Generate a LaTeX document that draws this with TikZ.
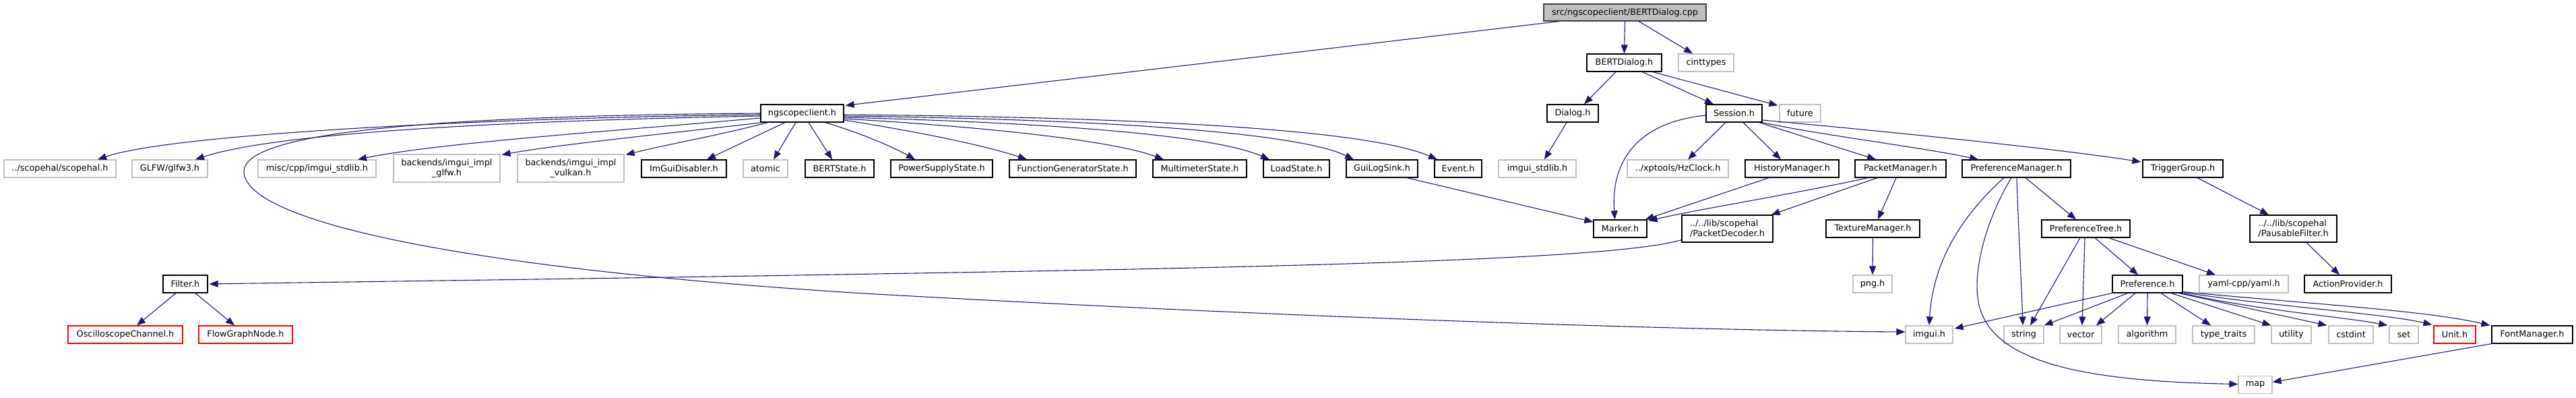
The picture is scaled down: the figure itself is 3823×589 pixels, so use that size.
\documentclass[tikz,border=0pt]{standalone}
\usepackage{fontspec}
\setmainfont{DejaVu Sans}
\usetikzlibrary{arrows.meta}
\definecolor{edgec}{HTML}{191970}
\definecolor{greyb}{HTML}{BFBFBF}
\tikzset{
  nb/.style={draw=black, line width=1.2pt, fill=white, inner sep=0pt, text=black,
             font=\fontsize{12.8}{15}\selectfont, align=center, minimum height=26pt},
  ng/.style={nb, draw=greyb},
  nr/.style={nb, draw=red},
  nroot/.style={nb, draw=black!75, fill=greyb},
  e/.style={draw=edgec, line width=1.1pt, -{Triangle[length=13pt,width=10pt]}},
}
\begin{document}
\begin{tikzpicture}[x=1pt,y=-1pt]
\useasboundingbox (0,0) rectangle (3823,589);
% nodes
\node[nroot, minimum width=241pt, minimum height=25pt] (cpp) at (2411.5,18.5) {src/ngscopeclient/BERTDialog.cpp};
\node[nb, minimum width=111pt] (bdh) at (2410.5,93) {BERTDialog.h};
\node[ng, minimum width=82pt] (cint) at (2532,93) {cinttypes};
\node[nb, minimum width=123pt] (ngs) at (1190.5,168) {ngscopeclient.h};
\node[nb, minimum width=76pt] (dialog) at (2334,168) {Dialog.h};
\node[nb, minimum width=83pt] (session) at (2573.5,168) {Session.h};
\node[ng, minimum width=61pt] (future) at (2671.5,168) {future};
% row 250
\node[ng, minimum width=166pt] (scopehal) at (89,250) {../scopehal/scopehal.h};
\node[ng, minimum width=112pt] (glfw) at (252,250) {GLFW/glfw3.h};
\node[ng, minimum width=175pt] (mimstd) at (470.5,250) {misc/cpp/imgui\_stdlib.h};
\node[ng, minimum width=158pt, minimum height=41pt] (gimpl) at (663,249.5) {backends/imgui\_impl\\\_glfw.h};
\node[ng, minimum width=158pt, minimum height=41pt] (vimpl) at (847,249.5) {backends/imgui\_impl\\\_vulkan.h};
\node[nb, minimum width=126pt] (imdis) at (1015,250) {ImGuiDisabler.h};
\node[ng, minimum width=66pt] (atomic) at (1136,250) {atomic};
\node[nb, minimum width=102pt] (bstate) at (1246,250) {BERTState.h};
\node[nb, minimum width=151pt] (psu) at (1397.5,250) {PowerSupplyState.h};
\node[nb, minimum width=188pt] (fgen) at (1592,250) {FunctionGeneratorState.h};
\node[nb, minimum width=139pt] (meter) at (1780.5,250) {MultimeterState.h};
\node[nb, minimum width=98pt] (load) at (1924,250) {LoadState.h};
\node[nb, minimum width=106pt] (guilog) at (2051,250) {GuiLogSink.h};
\node[nb, minimum width=70pt] (event) at (2164,250) {Event.h};
\node[ng, minimum width=115pt] (imstd) at (2281.5,250) {imgui\_stdlib.h};
\node[ng, minimum width=150pt] (hz) at (2490,250) {../xptools/HzClock.h};
\node[nb, minimum width=139pt] (history) at (2659.5,250) {HistoryManager.h};
\node[nb, minimum width=135pt] (packet) at (2820.5,250) {PacketManager.h};
\node[nb, minimum width=161pt] (prefmgr) at (2992.5,250) {PreferenceManager.h};
\node[nb, minimum width=119pt] (trigger) at (3239.5,250) {TriggerGroup.h};
% row 339
\node[nb, minimum width=79pt] (marker) at (2404.5,339) {Marker.h};
\node[nb, minimum width=135pt, minimum height=40pt, align=left] (pdec) at (2563.5,339) {../../lib/scopehal\\/PacketDecoder.h};
\node[nb, minimum width=139pt] (texmgr) at (2779.5,339) {TextureManager.h};
\node[nb, minimum width=131pt] (preftree) at (3095.5,339) {PreferenceTree.h};
\node[nb, minimum width=129pt, minimum height=40pt, align=left] (pausable) at (3403.5,339) {../../lib/scopehal\\/PausableFilter.h};
% row 421
\node[nb, minimum width=66pt] (filter) at (275,421) {Filter.h};
\node[ng, minimum width=58pt] (png) at (2779,421) {png.h};
\node[nb, minimum width=104pt] (pref) at (3187,421) {Preference.h};
\node[ng, minimum width=132pt] (yaml) at (3330,421) {yaml-cpp/yaml.h};
\node[nb, minimum width=129pt] (action) at (3484.5,421) {ActionProvider.h};
% row 496
\node[nr, minimum width=170pt] (osc) at (186,496) {OscilloscopeChannel.h};
\node[nr, minimum width=139pt] (flow) at (364.5,496) {FlowGraphNode.h};
\node[ng, minimum width=70pt] (imguih) at (2863,496) {imgui.h};
\node[ng, minimum width=59pt] (string) at (3003.5,496) {string};
\node[ng, minimum width=62pt] (vector) at (3088,496) {vector};
\node[ng, minimum width=85pt] (algo) at (3186.5,496) {algorithm};
\node[ng, minimum width=92pt] (ttraits) at (3300,496) {type\_traits};
\node[ng, minimum width=59pt] (utility) at (3400.5,496) {utility};
\node[ng, minimum width=66pt] (cstdint) at (3489,496) {cstdint};
\node[ng, minimum width=43pt] (set) at (3567.5,496) {set};
\node[nr, minimum width=62pt] (unit) at (3643,496) {Unit.h};
\node[nb, minimum width=120pt] (fontmgr) at (3758,496) {FontManager.h};
\node[ng, minimum width=50pt] (map) at (3347,570.5) {map};
% edges from cpp
\draw[e] ([shift={(-97,0)}]cpp.south) -- ([shift={(2,2)}]ngs.north east);
\draw[e] (cpp.south) -- (bdh.north);
\draw[e] ([shift={(20.5,0)}]cpp.south) -- ([shift={(-20,0)}]cint.north);
% BERTDialog.h
\draw[e] ([shift={(-12.5,0)}]bdh.south) -- ([shift={(17,0)}]dialog.north);
\draw[e] ([shift={(26.5,0)}]bdh.south) -- ([shift={(-30.5,0)}]session.north);
\draw[e] ([shift={(-14,0)}]bdh.south east) -- ([shift={(-2,2)}]future.north west);
\draw[e] ([shift={(-9,0)}]dialog.south) -- ([shift={(10.5,0)}]imstd.north);
% ngscopeclient.h
\draw[e] ([shift={(0,2)}]ngs.west) .. controls (700,175) and (250,200) .. ([shift={(56,0)}]scopehal.north);
\draw[e] ([shift={(0,4)}]ngs.west) .. controls (700,180) and (400,200) .. ([shift={(38,0)}]glfw.north);
\draw[e] ([shift={(0,7)}]ngs.west) .. controls (900,195) and (650,212) .. ([shift={(60.5,0)}]mimstd.north);
\draw[e] ([shift={(3,0)}]ngs.south west) .. controls (1000,197) and (830,214) .. ([shift={(2,1)}]gimpl.north east);
\draw[e] ([shift={(11,0)}]ngs.south west) .. controls (1070,200) and (990,214) .. ([shift={(2,1)}]vimpl.north east);
\draw[e] ([shift={(-25.5,0)}]ngs.south) -- ([shift={(34,0)}]imdis.north);
\draw[e] ([shift={(-9.5,0)}]ngs.south) -- ([shift={(12,0)}]atomic.north);
\draw[e] ([shift={(9.5,0)}]ngs.south) -- ([shift={(-11,0)}]bstate.north);
\draw[e] ([shift={(-28,0)}]ngs.south east) .. controls (1270,195) and (1320,215) .. ([shift={(-39.5,0)}]psu.north);
\draw[e] ([shift={(0,10)}]ngs.east) .. controls (1360,195) and (1460,215) .. ([shift={(-68,0)}]fgen.north);
\draw[e] ([shift={(0,8)}]ngs.east) .. controls (1460,188) and (1650,208) .. ([shift={(-53.5,0)}]meter.north);
\draw[e] ([shift={(0,6)}]ngs.east) .. controls (1560,182) and (1800,200) .. ([shift={(-40,0)}]load.north);
\draw[e] ([shift={(0,4)}]ngs.east) .. controls (1660,177) and (1930,198) .. ([shift={(-42,0)}]guilog.north);
\draw[e] ([shift={(0,2)}]ngs.east) .. controls (1750,174) and (2040,196) .. ([shift={(-31,0)}]event.north);
\draw[e] ([shift={(0,0)}]ngs.west) .. controls (600,172) and (360,200) .. (362,255)
   .. controls (365,330) and (700,400) .. (1300,436)
   .. controls (1900,470) and (2500,490) .. ([shift={(0,-4)}]imguih.west);
% Session.h
\draw[e] ([shift={(0,3)}]session.west) .. controls (2440,180) and (2390,230) .. ([shift={(-8,0)}]marker.north);
\draw[e] ([shift={(-12.5,0)}]session.south) -- ([shift={(15,0)}]hz.north);
\draw[e] ([shift={(13.5,0)}]session.south) -- ([shift={(-16.5,0)}]history.north);
\draw[e] ([shift={(-5,0)}]session.south east) -- ([shift={(-36.5,0)}]packet.north);
\draw[e] (session.south east) .. controls (2700,200) and (2850,218) .. ([shift={(-56.5,0)}]prefmgr.north);
\draw[e] ([shift={(0,10)}]session.east) .. controls (2800,195) and (3050,220) .. ([shift={(-2,-10)}]trigger.west);
% others
\draw[e] ([shift={(37,0)}]guilog.south) -- ([shift={(0,-10)}]marker.west);
\draw[e] ([shift={(-34.5,0)}]history.south) -- ([shift={(-3,0)}]marker.north east);
\draw[e] ([shift={(20,0)}]packet.south west) .. controls (2650,290) and (2520,310) .. ([shift={(2,2)}]marker.north east);
\draw[e] ([shift={(-34.5,0)}]packet.south) -- ([shift={(-3,0)}]pdec.north east);
\draw[e] ([shift={(-6.5,0)}]packet.south) -- ([shift={(7.5,0)}]texmgr.north);
\draw[e] (texmgr.south) -- (png.north);
\draw[e] ([shift={(0,-4)}]pdec.south west) .. controls (2400,385) and (1900,396) .. (1300,406)
   .. controls (900,413) and (500,418) .. ([shift={(2,0)}]filter.east);
\draw[e] ([shift={(-14,0)}]filter.south) -- ([shift={(17,0)}]osc.north);
\draw[e] ([shift={(15,0)}]filter.south) -- ([shift={(-16.5,0)}]flow.north);
% PreferenceManager
\draw[e] ([shift={(13.5,0)}]prefmgr.south) -- ([shift={(-14.5,0)}]preftree.north);
\draw[e] ([shift={(0.5,0)}]prefmgr.south) .. controls (2995,330) and (3000,420) .. ([shift={(-1.5,0)}]string.north);
\draw[e] ([shift={(-18.5,0)}]prefmgr.south) .. controls (2900,330) and (2868,400) .. (imguih.north);
\draw[e] ([shift={(-7.5,0)}]prefmgr.south) .. controls (2945,330) and (2930,400) .. (2935,440)
   .. controls (2945,540) and (3100,565) .. ([shift={(0,-1)}]map.west);
% PreferenceTree
\draw[e] ([shift={(-8.5,0)}]preftree.south) -- ([shift={(9.5,0)}]string.north);
\draw[e] ([shift={(-1.5,0)}]preftree.south) -- ([shift={(2,0)}]vector.north);
\draw[e] ([shift={(13.5,0)}]preftree.south) -- ([shift={(-14,0)}]pref.north);
\draw[e] ([shift={(-32,0)}]preftree.south east) -- ([shift={(-42,0)}]yaml.north);
% Preference
\draw[e] (pref.south west) -- ([shift={(2,-9)}]imguih.east);
\draw[e] ([shift={(-29,0)}]pref.south) -- (string.north east);
\draw[e] ([shift={(-18,0)}]pref.south) -- ([shift={(23,0)}]vector.north);
\draw[e] (pref.south) -- (algo.north);
\draw[e] ([shift={(20,0)}]pref.south) -- ([shift={(-19,0)}]ttraits.north);
\draw[e] ([shift={(35,0)}]pref.south) -- (utility.north west);
\draw[e] ([shift={(-6,0)}]pref.south east) -- ([shift={(-2,0)}]cstdint.north west);
\draw[e] ([shift={(-1,0)}]pref.south east) .. controls (3350,460) and (3480,470) .. ([shift={(-2,0)}]set.north west);
\draw[e] ([shift={(1,-1)}]pref.south east) .. controls (3380,455) and (3540,465) .. ([shift={(-2,-1)}]unit.north west);
\draw[e] ([shift={(1,-2)}]pref.south east) .. controls (3420,450) and (3600,460) .. ([shift={(-2,0)}]fontmgr.north west);
\draw[e] (fontmgr.south west) -- ([shift={(0,-4)}]map.east);
% TriggerGroup
\draw[e] ([shift={(21.5,0)}]trigger.south) -- ([shift={(-36.5,0)}]pausable.north);
\draw[e] ([shift={(19.5,0)}]pausable.south) -- ([shift={(-12.5,0)}]action.north);
\end{tikzpicture}
\end{document}
